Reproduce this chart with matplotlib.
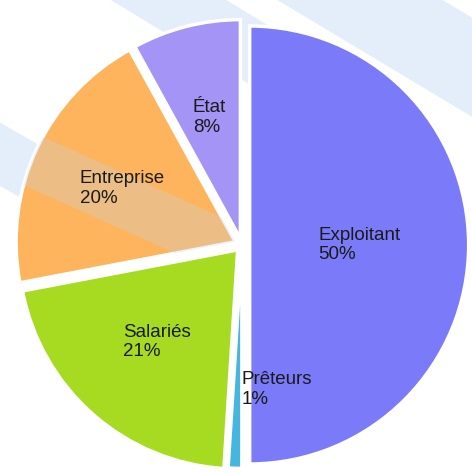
import numpy as np
import matplotlib.pyplot as plt
from matplotlib.patches import Polygon

plt.rcParams['font.family'] = ['Liberation Sans', 'DejaVu Sans']

labels = ['Exploitant', 'Prêteurs', 'Salariés', 'Entreprise', 'État']
values = [50, 1, 21, 20, 8]
colors = ['#7b7bf9', '#45b6e0', '#a6db22', '#fdb45c', '#a394f6']
explode = [0.035, 0.02, 0.03, 0.035, 0.03]

fig = plt.figure(figsize=(4.72, 4.73), dpi=100)
ax = fig.add_axes([0, 0, 1, 1])

R = 219.0   # pie radius in pixels
cx, cy = 242.0, 245.0  # pie centre in pixels (y from top)

wedges, _ = ax.pie(values, colors=colors, explode=explode, startangle=90,
                   counterclock=False, radius=1,
                   wedgeprops=dict(edgecolor='white', linewidth=2.5))

# labels inside slices
dist = {'Exploitant': 0.5, 'Entreprise': 0.57, 'État': 0.57, 'Salariés': 0.56}
for w, lab, v in zip(wedges, labels, values):
    ang = np.deg2rad((w.theta1 + w.theta2) / 2)
    if lab == 'Prêteurs':
        x, y = 0.16, -0.66
    else:
        d = dist[lab]
        x, y = d * np.cos(ang) + w.center[0], d * np.sin(ang) + w.center[1]
    ax.text(x, y, f'{lab}\n{v}%', ha='center', va='center',
            multialignment='left', fontsize=13.5, color='#1a1a1a',
            linespacing=1.2, zorder=5)

# faint watermark bands
def px(p):
    return ((p[0] - cx) / R, (cy - p[1]) / R)

def band(p0, p1, w, color, alpha, z):
    p0, p1 = np.array(p0, float), np.array(p1, float)
    d = (p1 - p0) / np.linalg.norm(p1 - p0)
    n = np.array([-d[1], d[0]]) * w / 2
    pts = [p0 - n, p1 - n, p1 + n, p0 + n]
    poly = Polygon([px(p) for p in pts], closed=True, color=color,
                   alpha=alpha, lw=0, zorder=z)
    ax.add_patch(poly)
    return poly

band((70, -60), (300, 80), 60, '#e4eefa', 1, 0)
band((260, -60), (560, 120), 85, '#e4eefa', 1, 0)
band((-60, 120), (80, 200), 55, '#e4eefa', 1, 0)
over = band((-40, 128), (240, 254), 52, '#c6d4e4', 0.3, 4)
over.set_clip_path(wedges[3])

ax.set_xlim(-cx / R, (472 - cx) / R)
ax.set_ylim(-(473 - cy) / R, cy / R)
ax.set_aspect('equal')
ax.axis('off')

fig.savefig('out.png', dpi=100, facecolor='white')
